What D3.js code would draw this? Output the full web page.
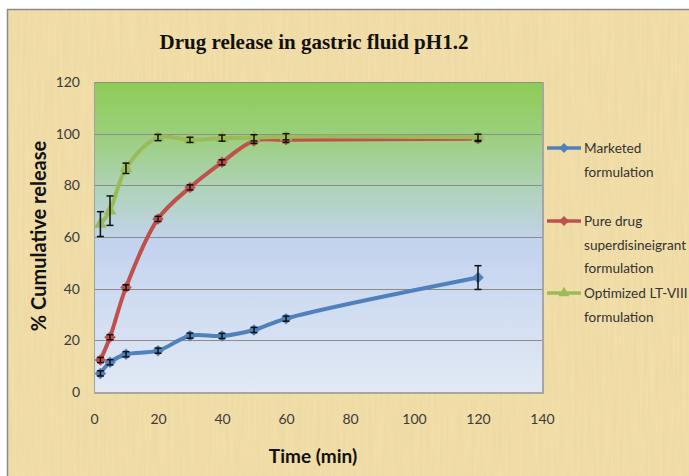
<!DOCTYPE html>
<html><head><meta charset="utf-8">
<script src="https://cdn.jsdelivr.net/npm/d3@7"></script>
<style>html,body{margin:0;padding:0;background:#fff;}svg{display:block;}</style>
</head><body>
<script>
const times = [2, 5, 10, 20, 30, 40, 50, 60, 120];
const marketed = [7.2, 11.5, 14.6, 16.0, 21.8, 21.7, 24.0, 28.4, 44.3];
const marketedErr = [1, 1, 1, 1, 1, 1, 1, 1, 4.6];
const pureDrug = [12.4, 21.2, 40.5, 67.0, 79.2, 88.9, 97.2, 97.6, 98.0];
const pureDrugErr = [1, 1, 1, 1, 1, 1, 1, 1, 1];
const optimized = [65.0, 70.2, 86.6, 98.5, 97.6, 98.3, 98.4, 98.8, 98.6];
const optimizedErr = [4.8, 5.7, 2.0, 1.2, 1.0, 1.2, 1.2, 1.2, 1.2];
const seriesNames = [["Marketed", "formulation"], ["Pure drug", "superdisineigrant", "formulation"], ["Optimized LT-VIII", "formulation"]];
const seriesColors = ["#4F81BD", "#C0504D", "#9BBB59"];
const xTicks = [0, 20, 40, 60, 80, 100, 120, 140];
const yTicks = [0, 20, 40, 60, 80, 100, 120];
const title = "Drug release in gastric fluid pH1.2";
const xTitle = "Time (min)";
const yTitle = "% Cumulative release";

const W = 689, H = 476;
const svg = d3.select("body").append("svg").attr("width", W).attr("height", H);
const defs = svg.append("defs");

// parchment texture
const f = defs.append("filter").attr("id", "paper").attr("x", 0).attr("y", 0).attr("width", "100%").attr("height", "100%");
f.append("feTurbulence").attr("type", "fractalNoise").attr("baseFrequency", "0.35 0.015").attr("numOctaves", 3).attr("seed", 4).attr("result", "n");
f.append("feColorMatrix").attr("in", "n").attr("type", "matrix")
  .attr("values", "0 0 0 0 0.72  0 0 0 0 0.58  0 0 0 0 0.30  0 0 0 -1.1 0.75");
const g1 = defs.append("linearGradient").attr("id", "plotbg").attr("x1", 0).attr("y1", 0).attr("x2", 0).attr("y2", 1);
[[0, "#8dcc55"], [0.18, "#9ccf80"], [0.38, "#b3d3c4"], [0.52, "#c3d3ee"], [1, "#e2e9f5"]]
  .forEach(([o, c]) => g1.append("stop").attr("offset", o).attr("stop-color", c));

svg.append("rect").attr("x", 7).attr("y", 9).attr("width", W - 7).attr("height", H - 9).attr("fill", "#f2dea9");
svg.append("rect").attr("x", 7).attr("y", 9).attr("width", W - 7).attr("height", H - 9).attr("filter", "url(#paper)").attr("opacity", 0.4);
svg.append("path").attr("d", `M7.5,${H}V9.5H${W}`).attr("fill", "none").attr("stroke", "#8a8a8a").attr("stroke-width", 1.5);

const x = d3.scaleLinear().domain([0, 140]).range([94, 542]);
const y = d3.scaleLinear().domain([0, 120]).range([392, 82]);

// plot area
svg.append("rect").attr("x", x(0)).attr("y", y(120)).attr("width", x(140) - x(0)).attr("height", y(0) - y(120))
  .attr("fill", "url(#plotbg)");
svg.append("g").selectAll("line").data(yTicks.filter(d => d > 0)).join("line")
  .attr("x1", x(0)).attr("x2", x(140)).attr("y1", d => Math.round(y(d)) + 0.5).attr("y2", d => Math.round(y(d)) + 0.5)
  .attr("stroke", "#8c8c8c").attr("stroke-width", 1);
svg.append("path").attr("d", `M${x(0)},${y(0) + 1}H${x(140) + 1}V${y(120)}`).attr("fill", "none").attr("stroke", "#a6a6a6").attr("stroke-width", 2);
svg.append("line").attr("x1", x(0) + 0.5).attr("x2", x(0) + 0.5).attr("y1", y(120)).attr("y2", y(0)).attr("stroke", "#a0a0a0");

// axes
const yAxis = d3.axisLeft(y).tickValues(yTicks).tickSize(0).tickPadding(0);
const ga = svg.append("g").attr("transform", "translate(80,0)").call(yAxis);
ga.select(".domain").remove();
ga.selectAll("text").attr("font-family", "Lato, 'Open Sans', sans-serif").attr("font-size", 14).attr("fill", "#3a3a3a");
const xAxis = d3.axisBottom(x).tickValues(xTicks).tickSize(0).tickPadding(0);
const gx = svg.append("g").attr("transform", "translate(0,414)").call(xAxis);
gx.select(".domain").remove();
gx.selectAll("text").attr("font-family", "Lato, 'Open Sans', sans-serif").attr("font-size", 14).attr("fill", "#3a3a3a");

svg.append("text").attr("x", 314).attr("y", 49).attr("text-anchor", "middle")
  .attr("font-family", "'Liberation Serif', 'Times New Roman', serif").attr("font-weight", "bold").attr("font-size", 21)
  .attr("fill", "#111").text(title);
svg.append("text").attr("x", 313).attr("y", 463).attr("text-anchor", "middle")
  .attr("font-family", "Lato, 'Open Sans', sans-serif").attr("font-weight", "bold").attr("font-size", 19)
  .attr("fill", "#111").text(xTitle);
svg.append("text").attr("transform", "translate(46,236) rotate(-90)").attr("text-anchor", "middle")
  .attr("font-family", "Lato, 'Open Sans', sans-serif").attr("font-weight", "bold").attr("font-size", 20)
  .attr("fill", "#111").text(yTitle);

const series = [
  { vals: marketed, err: marketedErr, shape: "diamond" },
  { vals: pureDrug, err: pureDrugErr, shape: "diamond" },
  { vals: optimized, err: optimizedErr, shape: "triangle" }
];
const line = d3.line().x(d => x(d[0])).y(d => y(d[1])).curve(d3.curveCatmullRom.alpha(0.5));
function marker(shape, size) {
  return shape === "triangle"
    ? { d: d3.symbol().type(d3.symbolTriangle).size(size * 1.1)(), rot: 0 }
    : { d: d3.symbol().type(d3.symbolSquare).size(size)(), rot: 45 };
}

series.forEach((s, i) => {
  const pts = times.map((t, j) => [t, s.vals[j], s.err[j]]);
  const g = svg.append("g");
  g.append("path").attr("d", line(pts)).attr("fill", "none").attr("stroke", seriesColors[i]).attr("stroke-width", 4).attr("stroke-linejoin", "round");
  const m = marker(s.shape, 66);
  g.selectAll("path.m").data(pts).join("path").attr("class", "m")
    .attr("transform", d => `translate(${x(d[0])},${y(d[1])}) rotate(${m.rot})`)
    .attr("d", m.d).attr("fill", seriesColors[i]);
  const eb = g.selectAll("g.e").data(pts).join("g").attr("class", "e").attr("stroke", "#111").attr("stroke-width", 1.5);
  eb.append("line").attr("x1", d => x(d[0])).attr("x2", d => x(d[0])).attr("y1", d => y(d[1] - d[2])).attr("y2", d => y(d[1] + d[2]));
  eb.append("line").attr("x1", d => x(d[0]) - 3.5).attr("x2", d => x(d[0]) + 3.5).attr("y1", d => y(d[1] - d[2])).attr("y2", d => y(d[1] - d[2]));
  eb.append("line").attr("x1", d => x(d[0]) - 3.5).attr("x2", d => x(d[0]) + 3.5).attr("y1", d => y(d[1] + d[2])).attr("y2", d => y(d[1] + d[2]));
});

// legend
const legY = [148, 221, 293];
seriesNames.forEach((lines, i) => {
  const g = svg.append("g");
  g.append("line").attr("x1", 547).attr("x2", 581).attr("y1", legY[i]).attr("y2", legY[i]).attr("stroke", seriesColors[i]).attr("stroke-width", 3.5);
  const m = marker(series[i].shape, 48);
  g.append("path").attr("transform", `translate(564,${legY[i]}) rotate(${m.rot})`)
    .attr("d", m.d).attr("fill", seriesColors[i]);
  lines.forEach((t, k) => {
    g.append("text").attr("x", 584).attr("y", legY[i] + 5 + k * 23.5)
      .attr("font-family", "Lato, 'Open Sans', sans-serif").attr("font-size", 13.6).attr("fill", "#333").text(t);
  });
});
</script>
</body></html>
